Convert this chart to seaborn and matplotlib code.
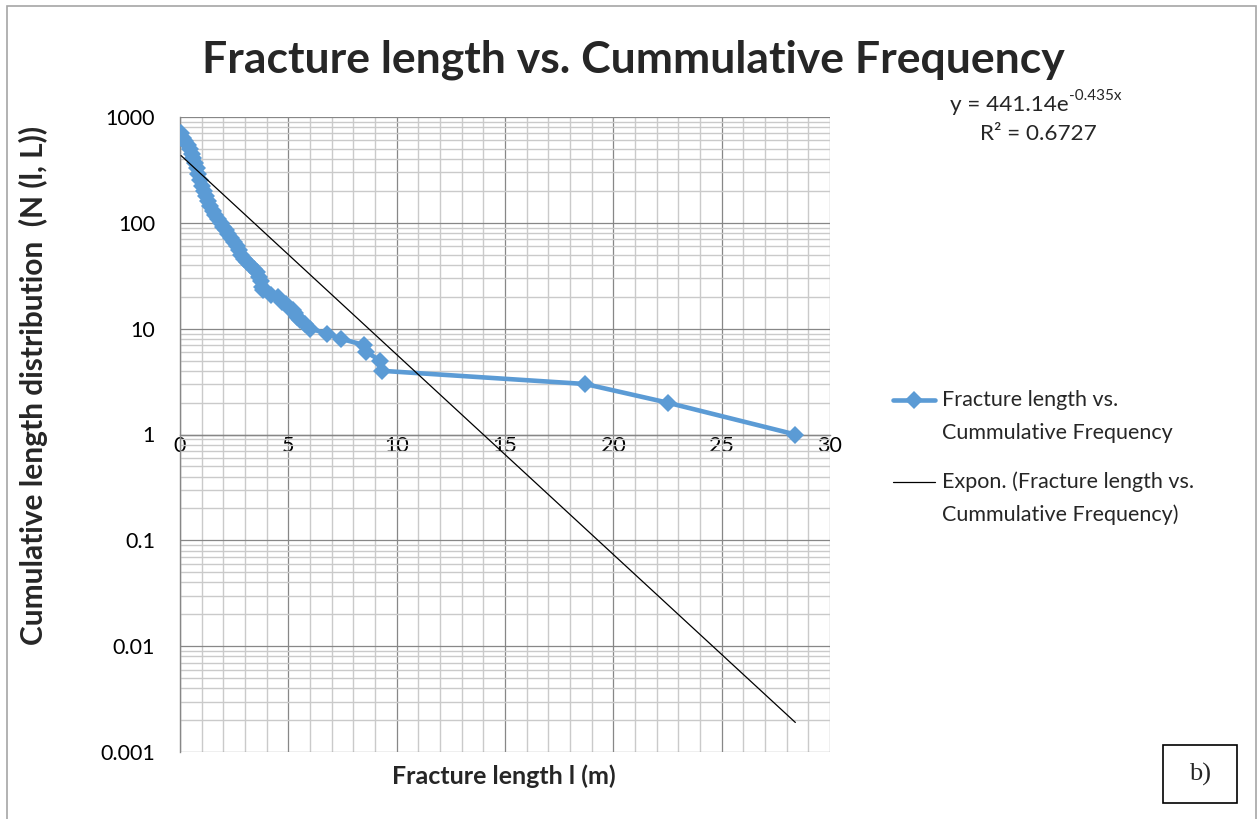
import numpy as np
import pandas as pd
import matplotlib
matplotlib.use("Agg")
import matplotlib.pyplot as plt
import seaborn as sns
from matplotlib.lines import Line2D
from matplotlib.patches import Rectangle
from matplotlib.ticker import FixedLocator, MultipleLocator, LogLocator, NullFormatter, FixedFormatter

# Fracture length (m) and cumulative number of fractures at least that long
length_m = [0.05, 0.15, 0.25, 0.35, 0.45, 0.55, 0.62, 0.70, 0.78, 0.85,
            0.93, 1.00, 1.10, 1.20, 1.30, 1.40, 1.50, 1.62, 1.75, 1.90,
            2.00, 2.10, 2.20, 2.35, 2.50, 2.62, 2.72, 2.82, 2.95, 3.10,
            3.25, 3.40, 3.55, 3.65, 3.72, 3.78, 3.85, 4.20, 4.50, 4.70,
            4.90, 5.00, 5.20, 5.30, 5.40, 5.55, 5.75, 6.00, 6.80, 7.45,
            8.50, 8.60, 9.25, 9.30, 18.7, 22.5, 28.4]
cum_freq = [700, 640, 590, 540, 500, 450, 410, 370, 330, 290,
            255, 225, 200, 180, 160, 145, 130, 118, 108, 100,
            92, 85, 78, 72, 66, 60, 55, 50, 46, 43,
            40, 37, 34, 31, 28, 25, 23, 21, 20, 18,
            17, 16, 15, 14, 13, 12, 11, 10, 9, 8,
            7, 6, 5, 4, 3, 2, 1]

# Exponential trend line y = a * exp(b * x)
fit_a = 441.14
fit_b = -0.435
fit_r2 = 0.6727

x_ticks = [0, 5, 10, 15, 20, 25, 30]
x_tick_labels = ["0", "5", "10", "15", "20", "25", "30"]
y_ticks = [0.001, 0.01, 0.1, 1, 10, 100, 1000]
y_tick_labels = ["0.001", "0.01", "0.1", "1", "10", "100", "1000"]

series_label = ["Fracture length vs.", "Cummulative Frequency"]
trend_label = ["Expon. (Fracture length vs.", "Cummulative Frequency)"]

BLUE = "#5B9BD5"
GRID_MAJOR = "#878787"
GRID_MINOR = "#cacaca"

sns.set_style("white")
plt.rcParams["font.family"] = ["Lato", "DejaVu Sans"]

W, H = 1258, 819


def fx(px):
    return px / W


def fy(py):
    return 1 - py / H


fig = plt.figure(figsize=(W / 100, H / 100), dpi=100)
fig.patch.set_facecolor("white")
ax = fig.add_axes([fx(180), fy(752), fx(830) - fx(180), fy(117) - fy(752)])
ax.set_yscale("log")
ax.set_xlim(0, 30)
ax.set_ylim(0.001, 1000)

df = pd.DataFrame({"length": length_m, "N": cum_freq})
sns.lineplot(data=df, x="length", y="N", sort=False, estimator=None,
             color=BLUE, linewidth=3.3, marker="D", markersize=9.5,
             markeredgewidth=0, ax=ax, zorder=3)

fit_x = np.linspace(min(length_m), max(length_m), 200)
fit_df = pd.DataFrame({"length": fit_x, "N": fit_a * np.exp(fit_b * fit_x)})
sns.lineplot(data=fit_df, x="length", y="N", color="black", linewidth=0.9,
             estimator=None, ax=ax, zorder=4)

# Grid: major lines at labelled ticks, light minor lines in between
ax.xaxis.set_major_locator(FixedLocator(x_ticks))
ax.xaxis.set_major_formatter(FixedFormatter(x_tick_labels))
ax.xaxis.set_minor_locator(MultipleLocator(1))
ax.yaxis.set_major_locator(FixedLocator(y_ticks))
ax.yaxis.set_major_formatter(FixedFormatter(y_tick_labels))
ax.yaxis.set_minor_locator(LogLocator(base=10, subs=np.arange(2, 10)))
ax.yaxis.set_minor_formatter(NullFormatter())
ax.set_axisbelow(True)
ax.grid(which="minor", color=GRID_MINOR, linewidth=1.0)
ax.grid(which="major", color=GRID_MAJOR, linewidth=0.9)

# Horizontal axis crosses the value axis at 1
for side in ("top", "right"):
    ax.spines[side].set_visible(False)
ax.spines["bottom"].set_position(("data", 1))
ax.spines["bottom"].set_color(GRID_MAJOR)
ax.spines["bottom"].set_linewidth(1.0)
ax.spines["left"].set_color(GRID_MAJOR)
ax.spines["left"].set_linewidth(1.0)

ax.tick_params(axis="x", which="both", length=0, pad=1, labelsize=15.5,
               labelcolor="black")
ax.tick_params(axis="y", which="major", length=6, width=0.9, color=GRID_MAJOR,
               pad=12, labelsize=15.5, labelcolor="black", direction="out")
ax.tick_params(axis="y", which="minor", length=0)
ax.set_xlabel("")
ax.set_ylabel("")
if ax.get_legend() is not None:
    ax.get_legend().remove()

# Titles and axis captions
fig.text(fx(633), fy(60), "Fracture length vs. Cummulative Frequency",
         ha="center", va="center", fontsize=32, fontweight="bold")
fig.text(fx(504), fy(776), "Fracture length l (m)", ha="center", va="center",
         fontsize=18, fontweight="bold")
fig.text(fx(33), fy(385), "Cumulative length distribution  (N (l, L))",
         ha="center", va="center", rotation=90, fontsize=21.5,
         fontweight="bold")

# Trend line equation with a superscript exponent
renderer = fig.canvas.get_renderer()
eq_main = fig.text(fx(950), fy(105), "y = 441.14e", ha="left",
                   va="center", fontsize=16.2)
bb = eq_main.get_window_extent(renderer=renderer)
fig.text(bb.x1 / W, fy(96), "-0.435x", ha="left", va="center",
         fontsize=11)
fig.text(fx(1038), fy(134), "R\u00b2 = %.4f" % fit_r2,
         ha="center", va="center", fontsize=16.2)

# Legend
fig.add_artist(Line2D([fx(893), fx(935)], [fy(400), fy(400)], color=BLUE,
                      linewidth=3.3, transform=fig.transFigure))
fig.add_artist(Line2D([fx(914)], [fy(400)], color=BLUE, marker="D",
                      markersize=9.5, markeredgewidth=0,
                      transform=fig.transFigure))
fig.add_artist(Line2D([fx(893), fx(935)], [fy(482), fy(482)], color="black",
                      linewidth=0.9, transform=fig.transFigure))
for lines, y_first in ((series_label, 400), (trend_label, 482)):
    for i, line in enumerate(lines):
        fig.text(fx(942), fy(y_first + 33 * i), line, ha="left",
                 va="center", fontsize=15.5)

# Panel tag
fig.add_artist(Rectangle((fx(1163), fy(803)), fx(1237) - fx(1163),
                         fy(745) - fy(803), fill=False, edgecolor="black",
                         linewidth=1.2, transform=fig.transFigure))
fig.text(fx(1200), fy(774), "b)", ha="center", va="center", fontsize=19,
         family=["Liberation Serif", "DejaVu Serif"])

# Chart area border
fig.add_artist(Rectangle((fx(7), fy(830)), fx(1256) - fx(7), fy(6) - fy(830),
                         fill=False, edgecolor="#a6a6a6", linewidth=1.2,
                         transform=fig.transFigure, clip_on=False))

fig.savefig("out.png", dpi=100)
